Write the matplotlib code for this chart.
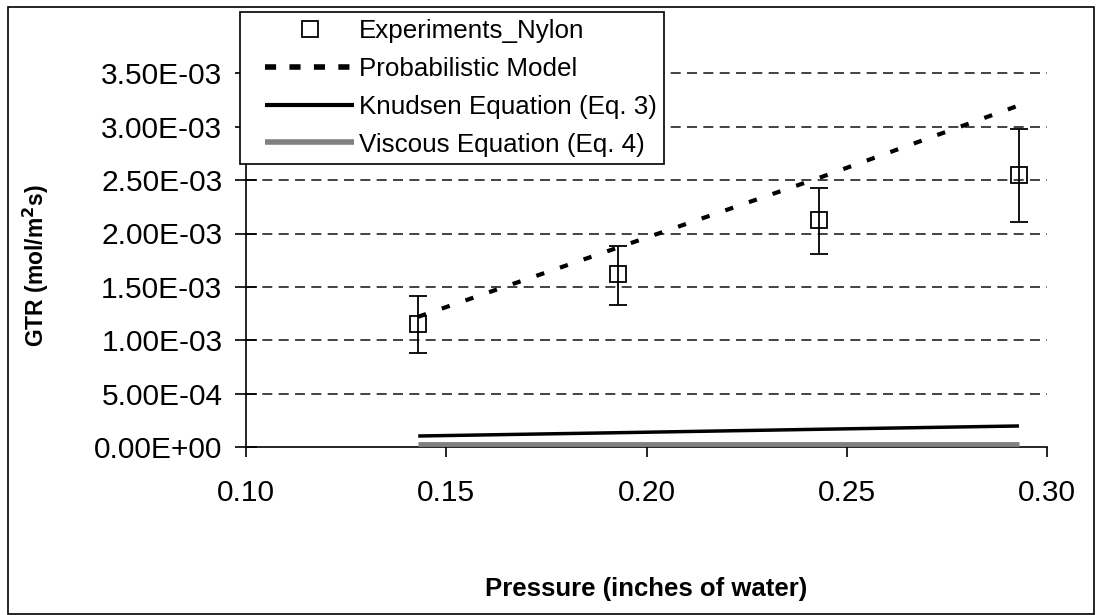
import matplotlib
matplotlib.use("Agg")
import matplotlib.pyplot as plt
from matplotlib.patches import Rectangle
from matplotlib.lines import Line2D
from matplotlib.legend_handler import HandlerLine2D

pressure = [0.143, 0.193, 0.243, 0.293]
exp_gtr = [1.15e-3, 1.62e-3, 2.13e-3, 2.55e-3]
exp_low = [0.88e-3, 1.33e-3, 1.81e-3, 2.11e-3]
exp_high = [1.41e-3, 1.88e-3, 2.43e-3, 2.98e-3]
prob_model = [1.22e-3, 1.87e-3, 2.52e-3, 3.20e-3]
knudsen = [1.03e-4, 1.34e-4, 1.66e-4, 1.97e-4]
viscous = [2.5e-5, 2.5e-5, 2.5e-5, 2.5e-5]
x_ticks = [0.10, 0.15, 0.20, 0.25, 0.30]
y_ticks = [0, 5e-4, 1e-3, 1.5e-3, 2e-3, 2.5e-3, 3e-3, 3.5e-3]
y_ticklabels = ["0.00E+00", "5.00E-04", "1.00E-03", "1.50E-03", "2.00E-03",
                "2.50E-03", "3.00E-03", "3.50E-03"]
legend_labels = ['Experiments_Nylon', 'Probabilistic Model',
                 'Knudsen Equation (Eq. 3)', 'Viscous Equation (Eq. 4)']

plt.rcParams['font.family'] = ['Liberation Sans', 'DejaVu Sans']


class ShiftedHandler(HandlerLine2D):
    def __init__(self, shift, **kw):
        super().__init__(**kw)
        self.shift = shift

    def create_artists(self, legend, orig_handle, xdescent, ydescent, width,
                       height, fontsize, trans):
        return super().create_artists(legend, orig_handle, xdescent - self.shift,
                                      ydescent, width - self.shift, height,
                                      fontsize, trans)


fig = plt.figure(figsize=(11, 6.15), dpi=100)
ax = fig.add_axes([246 / 1100, 1 - 447 / 615, 801 / 1100, 427 / 615])

for yv in y_ticks[1:]:
    ax.axhline(yv, color='#222222', lw=1.2, dashes=(6, 3.8), zorder=1)

ax.plot(pressure, viscous, color='#808080', lw=3.5, solid_capstyle='butt', zorder=3)
ax.plot(pressure, knudsen, color='black', lw=2.5, solid_capstyle='butt', zorder=3)
ax.plot(pressure, prob_model, color='black', lw=3, dashes=(2, 4), zorder=3)
yerr = [[g - l for g, l in zip(exp_gtr, exp_low)],
        [h - g for g, h in zip(exp_gtr, exp_high)]]
ax.errorbar(pressure, exp_gtr, yerr=yerr, fmt='s', mfc='none', mec='black',
            ms=11, mew=1.3, ecolor='black', elinewidth=1.3, capsize=6.5,
            capthick=1.3, zorder=4)

ax.set_xlim(0.10, 0.30)
ax.set_ylim(0, 4e-3)
ax.set_xticks(x_ticks)
ax.set_xticklabels([f"{v:.2f}" for v in x_ticks])
ax.set_yticks(y_ticks)
ax.set_yticklabels(y_ticklabels)
ax.tick_params(axis='y', direction='inout', length=16, width=1.2, labelsize=21.5, pad=9)
ax.tick_params(axis='x', direction='out', length=7, width=1.2, labelsize=21.5, pad=16)
for s in ['top', 'right']:
    ax.spines[s].set_visible(False)
for s in ['left', 'bottom']:
    ax.spines[s].set_linewidth(1.2)

ax.set_xlabel('Pressure (inches of water)', fontsize=18.5, fontweight='bold')
ax.xaxis.set_label_coords(0.5, -0.305)
ax.set_ylabel('GTR (mol/m$^\\mathbf{2}$s)', fontsize=16.5, fontweight='bold')
ax.yaxis.set_label_coords(-0.2434, 0.424)

proxies = [
    Line2D([], [], ls='none', marker='s', mfc='none', mec='black', ms=11, mew=1.3),
    Line2D([], [], color='black', lw=4, dashes=(2, 2.4)),
    Line2D([], [], color='black', lw=3, solid_capstyle='butt'),
    Line2D([], [], color='#808080', lw=4, solid_capstyle='butt'),
]
fs = 18.7
shift_px = 18
shift_pt = shift_px * 72 / 100
leg = fig.legend(proxies, legend_labels, loc='upper left',
                 bbox_to_anchor=(240 / 1100, 1 - 12 / 615), fontsize=fs,
                 frameon=True, fancybox=False, edgecolor='black', framealpha=1,
                 handlelength=4.1, handletextpad=0.2, labelspacing=0.53,
                 borderpad=0.28, borderaxespad=0,
                 handler_map={p: ShiftedHandler(shift_pt) for p in proxies})
leg.get_frame().set_linewidth(1.2)

fig.patches.append(Rectangle((8 / 1100, 0.002), 1 - 14 / 1100, 1 - 8 / 615,
                             transform=fig.transFigure, fill=False,
                             edgecolor='black', lw=1.2))

fig.savefig('out.png', dpi=100)
